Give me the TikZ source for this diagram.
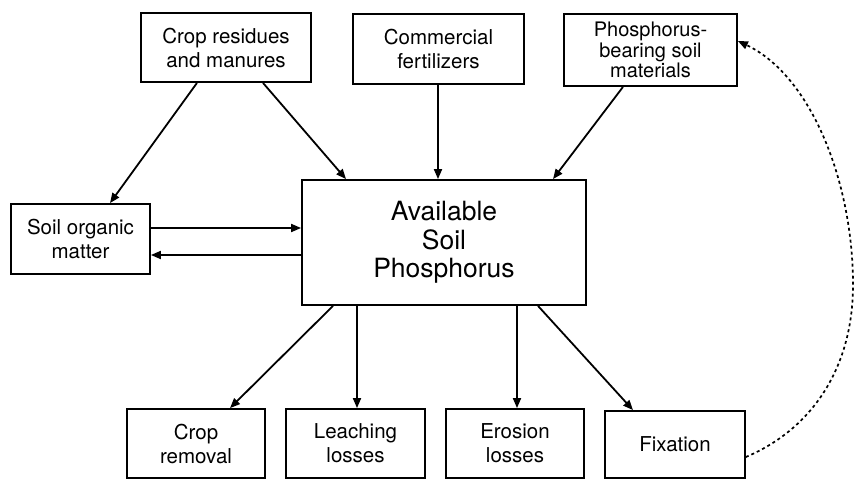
\documentclass[tikz,border=0pt]{standalone}
\usepackage{fontspec}
\setmainfont{TeX Gyre Heros}
\usetikzlibrary{arrows.meta}
\tikzset{
  box/.style={draw, line width=1.8pt, align=center, inner sep=0pt,
              font=\fontsize{20.5}{24}\selectfont},
  bigbox/.style={box, font=\fontsize{26.5}{28.5}\selectfont},
  arr/.style={line width=1.8pt, -{Triangle[length=10pt,width=8pt]}},
  loop/.style={line width=1.7pt, dash pattern=on 3pt off 3pt,
               -{Triangle[length=10pt,width=8pt]}}
}
\begin{document}
\begin{tikzpicture}[x=1pt,y=-1pt]
\fill[white] (0,0) rectangle (855,481);
\useasboundingbox (0,0) rectangle (855,481);

% sources
\node[box, minimum width=170pt, minimum height=69pt] (cr) at (226,47.5) {Crop residues\\and manures};
\node[box, minimum width=171pt, minimum height=70pt] (cf) at (438.5,49) {Commercial\\fertilizers};
\node[box, minimum width=173pt, minimum height=72pt, font=\fontsize{20}{20.5}\selectfont] (pb) at (650.5,50) {Phosphorus-\\bearing soil\\materials};

% pools
\node[box, minimum width=139pt, minimum height=70pt] (som) at (80.5,239) {Soil organic\\matter};
\node[bigbox, minimum width=284pt, minimum height=125pt] (asp) at (444,242.5) {Available\\Soil\\Phosphorus};

% sinks
\node[box, minimum width=138pt, minimum height=69pt] (crm) at (196,443.5) {Crop\\removal};
\node[box, minimum width=139pt, minimum height=69pt] (lch) at (355.5,443.5) {Leaching\\losses};
\node[box, minimum width=138pt, minimum height=69pt] (ero) at (515,443.5) {Erosion\\losses};
\node[box, minimum width=140pt, minimum height=67pt] (fix) at (675,444.5) {Fixation};

% inputs
\draw[arr] ([xshift=-29pt]cr.south) -- ([xshift=29.5pt]som.north);
\draw[arr] ([xshift=37pt]cr.south) -- ([xshift=-98pt]asp.north);
\coordinate (cfo) at ([xshift=-0.5pt]cf.south);
\draw[arr] (cfo) -- (cfo |- asp.north);
\draw[arr] ([xshift=-27.5pt]pb.south) -- ([xshift=109pt]asp.north);

% exchange with organic matter
\coordinate (m1) at ([yshift=11pt]som.east);
\coordinate (m2) at ([yshift=-16pt]som.east);
\draw[arr] (m1) -- (m1 -| asp.west);
\draw[arr] (m2 -| asp.west) -- (m2);

% outputs
\draw[arr] ([xshift=-111pt]asp.south) -- ([xshift=34pt]crm.north);
\draw[arr] ([xshift=1.5pt]lch.north |- asp.south) -- ([xshift=1.5pt]lch.north);
\draw[arr] ([xshift=2pt]ero.north |- asp.south) -- ([xshift=2pt]ero.north);
\draw[arr] ([xshift=94pt]asp.south) -- ([xshift=-42pt]fix.north);

% slow release of fixed phosphorus
\coordinate (rim) at (853,285);
\draw[loop] ([yshift=-12.5pt]fix.east) .. controls (810,430) and (853,370) .. (rim)
            .. controls (853,180) and (810,75) .. ([yshift=9pt]pb.east);
\end{tikzpicture}
\end{document}
